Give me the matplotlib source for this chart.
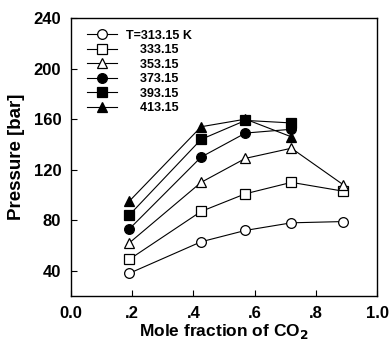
import matplotlib
matplotlib.use('Agg')
import matplotlib.pyplot as plt

plt.rcParams['font.family'] = ['Liberation Sans', 'DejaVu Sans']
plt.rcParams['font.weight'] = 'bold'
plt.rcParams['mathtext.default'] = 'bf'

# mole fraction of CO2
x_co2 = [0.19, 0.425, 0.57, 0.72, 0.89]

# pressure (bar) per temperature
p_313 = [38, 63, 72, 78, 79]
p_333 = [49, 87, 101, 110, 103]
p_353 = [62, 110, 129, 137, 108]
p_373 = [73, 130, 149, 152]
p_393 = [84, 144, 159, 157]
p_413 = [95, 154, 160, 146]

labels = ['T=313.15 K', '333.15', '353.15', '373.15', '393.15', '413.15']

fig = plt.figure(figsize=(3.89, 3.40), dpi=100)
ax = fig.add_axes([0.1825, 0.129, 0.787, 0.818])

series = [
    (p_313, 'o', 'white'),
    (p_333, 's', 'white'),
    (p_353, '^', 'white'),
    (p_373, 'o', 'black'),
    (p_393, 's', 'black'),
    (p_413, '^', 'black'),
]

for (vals, mk, fc), lab in zip(series, labels):
    ax.plot(x_co2[:len(vals)], vals, color='black', lw=0.8, marker=mk,
            markersize=7, markerfacecolor=fc, markeredgecolor='black',
            markeredgewidth=0.9, label=lab)

ax.set_xlim(0, 1.0)
ax.set_ylim(20, 240)
ax.set_xticks([0, 0.2, 0.4, 0.6, 0.8, 1.0])
ax.set_xticklabels(['0.0', '.2', '.4', '.6', '.8', '1.0'])
ax.set_yticks([40, 80, 120, 160, 200, 240])
ax.tick_params(direction='in', length=4, labelsize=12, width=0.8, pad=7)
for s in ax.spines.values():
    s.set_linewidth(1.0)

ax.set_xlabel('Mole fraction of CO$_2$', fontsize=12.5, fontweight='bold', labelpad=1)
ax.set_ylabel('Pressure [bar]', fontsize=13.5, fontweight='bold', labelpad=6)

leg = ax.legend(loc='upper left', frameon=False, fontsize=9, numpoints=1,
                handlelength=2.4, handletextpad=0.7, labelspacing=0.2,
                borderaxespad=0.3, bbox_to_anchor=(0.025, 0.99))
# push the numeric labels so they line up under "313.15"
for t in leg.get_texts()[1:]:
    t.set_text('    ' + t.get_text())

fig.savefig('out.png', dpi=100)
